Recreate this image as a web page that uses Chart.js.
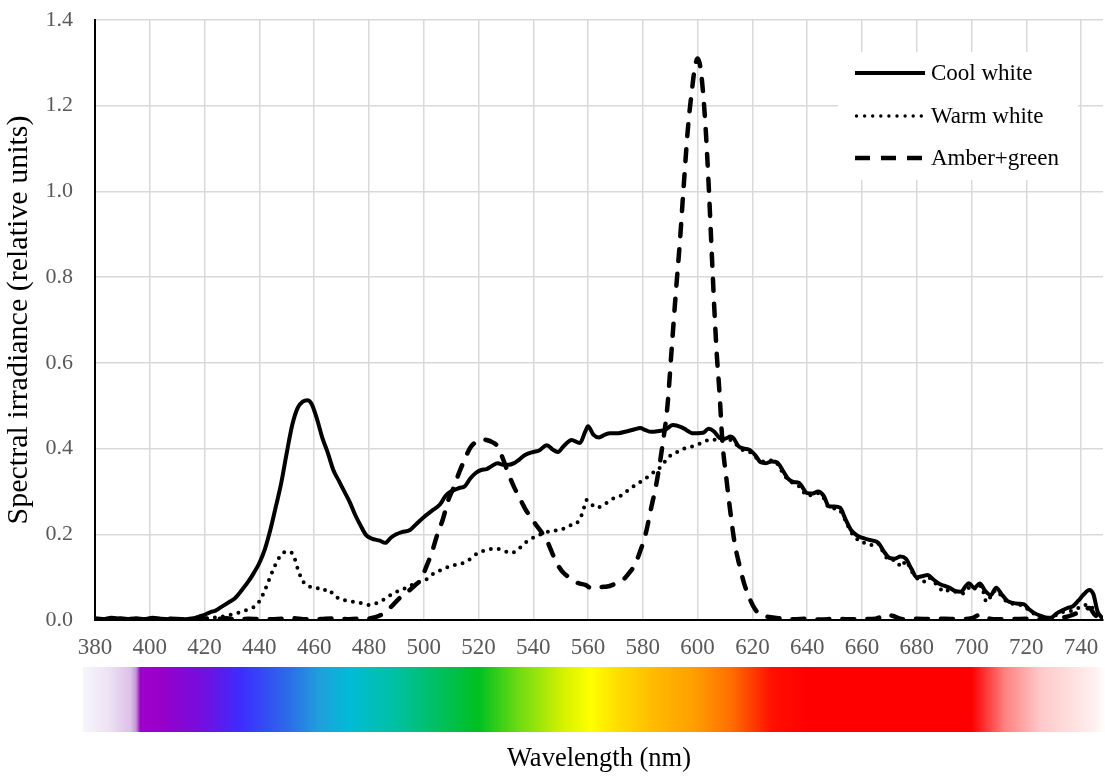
<!DOCTYPE html>
<html>
<head>
<meta charset="utf-8">
<script src="https://cdn.jsdelivr.net/npm/chart.js@4.4.1/dist/chart.umd.min.js"></script>
<style>
html,body{margin:0;padding:0;background:#fff;}
canvas{display:block;}
</style>
</head>
<body>
<canvas id="c" width="1105" height="777"></canvas>
<script>
// ---------------- DATA ----------------
const seriesNames = ['Cool white', 'Warm white', 'Amber+green'];

const coolX = [380,383,386,389,392,395,398,401,404,407,410,413,416,418,420,422,424,426,429,431,433,436,438,440,442,444,446,448,450,452,454,456,457.5,459,461,463,465,467,469,471,473,475,477,479,481,484,486,488,490,492,495,497,500,503,506,508,510,513,515,517,519,521,523,525,527,529,531,533,535,537,540,542,545,547,549,551,554,557,559,560,562,564,566,568,571,574,577,579,581,583,586,588,591,594,596,598,600,602,604,606,608,610,612,613,615,617,619,621,623,625,627,629,631,633,635,637,640,642,644,646,648,650,652,654,656,658,660,662,664,666,668,670,672,674,676,678,680,682,684,686,688,690,692,694,696,698,699,701,703,705,707,709,711,713,715,717,719,721,723,725,727,729,731,733,735,737,739,741,743,744.5,746,748];
const coolY = [0.004,0.002,0.005,0.003,0.002,0.004,0.002,0.005,0.003,0.002,0.003,0.002,0.004,0.008,0.012,0.018,0.022,0.030,0.042,0.050,0.065,0.090,0.110,0.133,0.165,0.210,0.264,0.320,0.390,0.455,0.495,0.510,0.513,0.505,0.470,0.425,0.390,0.350,0.325,0.300,0.275,0.245,0.220,0.198,0.190,0.185,0.180,0.192,0.200,0.205,0.210,0.222,0.240,0.255,0.270,0.290,0.300,0.308,0.312,0.330,0.343,0.350,0.352,0.360,0.366,0.362,0.362,0.366,0.375,0.385,0.392,0.395,0.408,0.398,0.392,0.405,0.420,0.413,0.440,0.452,0.432,0.426,0.432,0.436,0.436,0.440,0.445,0.448,0.443,0.439,0.441,0.443,0.455,0.450,0.443,0.436,0.436,0.437,0.446,0.440,0.425,0.423,0.428,0.425,0.405,0.400,0.397,0.385,0.368,0.366,0.370,0.368,0.350,0.330,0.322,0.320,0.296,0.295,0.300,0.290,0.265,0.265,0.262,0.235,0.210,0.198,0.192,0.188,0.185,0.180,0.160,0.145,0.143,0.148,0.143,0.120,0.100,0.102,0.105,0.095,0.085,0.080,0.075,0.068,0.066,0.080,0.086,0.075,0.085,0.068,0.058,0.075,0.060,0.045,0.040,0.038,0.037,0.025,0.016,0.010,0.006,0.005,0.015,0.022,0.028,0.032,0.045,0.060,0.070,0.060,0.020,0.003];

const warmX = [380,385,390,395,400,405,410,415,420,424,428,432,436,439,441,443,445,447,449,451,452.5,454,455.5,457,459,461,463,465,467,469,472,475,478,480,483,486,489,492,495,498,501,504,507,510,513,516,518,520,523,526,529,532,535,538,541,544,547,550,553,556,558,559.5,561,563,566,569,572,575,578,581,584,587,589,592,595,598,601,603,605,608,610,612,614,616,618,620,622,624,626,628,630,632,634,636,638,640,642,644,646,648,650,652,654,656,658,660,662,664.5,666,668,670,672,674.5,676,678,680,682.5,684,686,688,690,692,694,697,699,700,702,703.5,705.5,707,709,711,713,715,717,719,721,723,725,727,729,731,733,735,737,739,741,743,745,747,748];
const warmY = [0.002,0.001,0.002,0.001,0.002,0.001,0.002,0.002,0.004,0.006,0.010,0.016,0.025,0.035,0.055,0.085,0.117,0.143,0.158,0.160,0.150,0.120,0.095,0.082,0.077,0.075,0.068,0.072,0.060,0.050,0.045,0.042,0.038,0.035,0.040,0.050,0.063,0.070,0.080,0.088,0.095,0.110,0.118,0.127,0.130,0.138,0.148,0.157,0.163,0.167,0.162,0.156,0.168,0.185,0.195,0.203,0.208,0.210,0.220,0.227,0.250,0.280,0.272,0.262,0.270,0.283,0.290,0.305,0.318,0.330,0.345,0.360,0.378,0.390,0.400,0.405,0.412,0.418,0.422,0.418,0.418,0.420,0.410,0.398,0.395,0.388,0.375,0.370,0.372,0.372,0.355,0.335,0.322,0.318,0.305,0.290,0.292,0.296,0.285,0.262,0.260,0.255,0.232,0.205,0.190,0.180,0.180,0.172,0.178,0.155,0.140,0.140,0.124,0.138,0.115,0.098,0.089,0.100,0.090,0.078,0.065,0.070,0.066,0.062,0.075,0.080,0.070,0.080,0.042,0.055,0.070,0.055,0.042,0.038,0.035,0.034,0.022,0.014,0.008,0.005,0.004,0.012,0.018,0.020,0.022,0.028,0.035,0.035,0.020,0.005,0.002];

const amberX = [380,384,388,392,396,400,404,408,412,416,420,424,428,432,436,440,444,448,452,456,460,464,468,472,476,479,482,485,488,491,494,497,499,501,503,505,507,509,511,513,515,517,519,521,523,525,527,529,531,533,535,537,539,541,543,545,547,549,551,553,555,557,559,561,563,565,567,569,571,573,575,577,579,581,583,585,587,589,590.5,592,593.5,595,596.5,598,599,600,601,602,603,604,605,606,607,608,609,610.5,612,613.5,615,617,619,621,623,626,630,635,640,645,650,655,660,665,669,671,675,680,685,690,695,700,703,706,710,715,720,725,730,735,740,743,745,748];
const amberY = [0.003,0.001,0.004,0.002,0.003,0.001,0.002,0.003,0.001,0.002,0.003,0.002,0.004,0.001,0.003,0.002,0.002,0.003,0.004,0.002,0.001,0.003,0.004,0.002,0.003,0.003,0.006,0.014,0.030,0.050,0.065,0.082,0.095,0.125,0.158,0.200,0.235,0.280,0.310,0.345,0.375,0.402,0.415,0.422,0.420,0.415,0.405,0.375,0.340,0.310,0.285,0.260,0.240,0.222,0.205,0.185,0.155,0.128,0.110,0.100,0.090,0.085,0.082,0.075,0.075,0.077,0.078,0.082,0.088,0.095,0.110,0.128,0.160,0.200,0.260,0.320,0.400,0.500,0.630,0.760,0.880,1.020,1.150,1.240,1.290,1.310,1.290,1.230,1.140,1.020,0.880,0.740,0.620,0.530,0.420,0.330,0.250,0.180,0.135,0.085,0.050,0.025,0.012,0.007,0.004,0.002,0.003,0.001,0.003,0.002,0.002,0.003,0.012,0.010,0.002,0.003,0.002,0.003,0.002,0.004,0.012,0.004,0.002,0.002,0.003,0.002,0.003,0.008,0.020,0.028,0.012,0.003];

const xTicks = [380,400,420,440,460,480,500,520,540,560,580,600,620,640,660,680,700,720,740];
const yTicks = [0,0.2,0.4,0.6,0.8,1.0,1.2,1.4];
const xMin = 380, xMax = 748, yMin = 0, yMax = 1.4;

// ---------------- STYLE ----------------
const SERIF = '"Liberation Serif","Times New Roman",serif';
const lineStyles = [
  {borderWidth: 4, borderDash: [], cap: 'round'},
  {borderWidth: 4, borderDash: [0, 8], cap: 'round'},
  {borderWidth: 4.5, borderDash: [12, 13], cap: 'round'}
];
const spectrumNm = [375.6,385,393,395,396.5,404,420,433,450,462,473,490,505,520,535,550,561,570,585,598,612,627,640,700,703,712,725,745];
const spectrumCol = ['#f7f5fb','#ede2f3','#dcc0e8','#c890dc','#a000cc','#9800c8','#7010e0','#3c2cff','#2c6ae8','#1ea0dc','#00bcd6','#00c0a0','#00c060','#00c020','#70dc10','#d0f000','#ffff00','#ffe000','#ffb800','#ffa000','#ff7000','#ff1000','#ff0000','#ff0000','#ff2020','#ff8080','#ffc8c8','#fff0f0'];

function pts(xs, ys){ return xs.map((x,i)=>({x:x, y:ys[i]})); }

const spectrumBar = {
  id: 'spectrumBar',
  afterDraw(chart){
    const xs = chart.scales.x, c = chart.ctx;
    const left = xs.getPixelForValue(spectrumNm[0]);
    const right = chart.width;
    const top = chart.chartArea.bottom + 47, h = 65;
    const g = c.createLinearGradient(left, 0, right, 0);
    spectrumNm.forEach((nm, i) => {
      const p = (xs.getPixelForValue(nm) - left) / (right - left);
      if (p >= 0 && p <= 1) g.addColorStop(p, spectrumCol[i]);
    });
    g.addColorStop(1, '#ffffff');
    c.save();
    c.fillStyle = g;
    c.fillRect(left, top, right - left, h);
    c.restore();
  }
};

const customLegend = {
  id: 'customLegend',
  afterDraw(chart){
    const c = chart.ctx, ca = chart.chartArea;
    const bx = ca.right - 265, by = ca.top + 32;
    c.save();
    c.fillStyle = '#ffffff';
    c.fillRect(bx, by, 240, 128);
    const rows = [53, 96, 138].map(v => v + ca.top);
    const x0 = bx + 17, x1 = bx + 87;
    seriesNames.forEach((name, i) => {
      const y = rows[i];
      c.strokeStyle = '#000';
      c.beginPath();
      if (i === 0) {
        c.lineWidth = 4; c.lineCap = 'butt'; c.setLineDash([]);
        c.moveTo(x0, y); c.lineTo(x1, y); c.stroke();
      } else if (i === 1) {
        c.fillStyle = '#000';
        for (let k = 0; k < 9; k++) {
          c.beginPath(); c.arc(x0 + 1.5 + k * 8.1, y, 1.7, 0, Math.PI * 2); c.fill();
        }
      } else {
        c.lineWidth = 4.5; c.lineCap = 'butt'; c.setLineDash([15, 11]);
        c.moveTo(x0, y); c.lineTo(x1, y); c.stroke();
        c.setLineDash([]);
      }
      c.fillStyle = '#000';
      c.font = '23px ' + SERIF;
      c.textBaseline = 'middle';
      c.textAlign = 'left';
      c.fillText(name, x1 + 6, y + 1);
    });
    c.restore();
  }
};

const seriesData = [pts(coolX, coolY), pts(warmX, warmY), pts(amberX, amberY)];

new Chart(document.getElementById('c'), {
  type: 'line',
  data: {
    datasets: seriesNames.map((name, i) => ({
      label: name,
      data: seriesData[i],
      borderColor: '#000',
      backgroundColor: '#000',
      borderWidth: lineStyles[i].borderWidth,
      borderDash: lineStyles[i].borderDash,
      borderCapStyle: lineStyles[i].cap,
      borderJoinStyle: 'round',
      pointRadius: 0,
      fill: false,
      tension: 0.35,
      cubicInterpolationMode: 'monotone'
    }))
  },
  options: {
    responsive: false,
    animation: false,
    devicePixelRatio: 1,
    layout: {padding: {top: 20, right: 2, left: 0, bottom: 0}},
    plugins: {legend: {display: false}, tooltip: {enabled: false}},
    scales: {
      x: {
        type: 'linear', min: xMin, max: xMax,
        afterFit(s){ s.height = 157; s.paddingLeft = 0; s.paddingRight = 0; },
        afterBuildTicks(s){ s.ticks = xTicks.map(v => ({value: v})); },
        grid: {color: '#d9d9d9', lineWidth: 1.5, drawTicks: false},
        border: {display: true, color: '#000', width: 2},
        ticks: {color: '#595959', font: {family: SERIF, size: 23}, padding: 14, maxRotation: 0, autoSkip: false,
          callback: v => String(v)},
        title: {display: true, text: 'Wavelength (nm)', color: '#000',
          font: {family: SERIF, size: 26.5}, padding: {top: 0, bottom: 2}}
      },
      y: {
        type: 'linear', min: yMin, max: yMax,
        afterFit(s){ s.width = 95; s.paddingTop = 0; s.paddingBottom = 0; },
        afterBuildTicks(s){ s.ticks = yTicks.map(v => ({value: v})); },
        grid: {color: '#d9d9d9', lineWidth: 1.5, drawTicks: false},
        border: {display: true, color: '#000', width: 2},
        ticks: {color: '#595959', font: {family: SERIF, size: 22}, padding: 22,
          callback: v => Number(v).toFixed(1)},
        title: {display: true, text: 'Spectral irradiance (relative units)', color: '#000',
          font: {family: SERIF, size: 30}, padding: {top: 1, bottom: 0}}
      }
    }
  },
  plugins: [spectrumBar, customLegend]
});
</script>
</body>
</html>
